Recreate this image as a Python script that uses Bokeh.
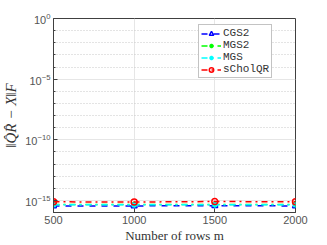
from bokeh.plotting import figure
from bokeh.models import Range1d, FixedTicker, Legend, LegendItem
from bokeh.embed import file_html
from bokeh.resources import INLINE

rows_m = [500, 1000, 1500, 2000]
cgs2 = [3.5e-16, 3.5e-16, 3.6e-16, 3.5e-16]
mgs2 = [4.5e-16, 4.5e-16, 4.6e-16, 4.5e-16]
mgs = [4.3e-16, 4.3e-16, 4.4e-16, 4.3e-16]
scholqr = [7.6e-16, 7.3e-16, 8.0e-16, 7.7e-16]
x_ticks = [500, 1000, 1500, 2000]
y_major = [1e-15, 1e-10, 1e-5, 1e0]
y_minor = [10.0 ** k for k in range(-16, 1) if k % 5 != 0]

AX = "#404040"
p = figure(width=327, height=245, y_axis_type="log",
           x_range=Range1d(500, 2000), y_range=Range1d(1e-16, 1),
           output_backend="svg", toolbar_location=None,
           min_border_left=53, min_border_right=32, min_border_top=18, min_border_bottom=32)
p.outline_line_color = AX
p.outline_line_width = 1

p.xaxis.ticker = FixedTicker(ticks=x_ticks)
p.yaxis.ticker = FixedTicker(ticks=y_major, minor_ticks=y_minor)
for ax in (p.xaxis[0], p.yaxis[0]):
    ax.axis_line_color = AX
    ax.major_tick_line_color = AX
    ax.minor_tick_line_color = AX
    ax.major_tick_in = 4
    ax.major_tick_out = 0
    ax.minor_tick_in = 2
    ax.minor_tick_out = 0
    ax.major_label_text_font = "Liberation Sans"
    ax.major_label_text_font_size = "11px"
    ax.major_label_text_color = "#555555"
    ax.axis_label_text_font = "Liberation Serif"
    ax.axis_label_text_font_style = "normal"
    ax.axis_label_text_font_size = "13px"
    ax.axis_label_text_color = "#333333"
p.xaxis.major_label_standoff = 3
p.xaxis.axis_label_standoff = 1
p.yaxis.major_label_standoff = 3
p.yaxis.axis_label_standoff = 3
p.xaxis.axis_label = "Number of rows m"
p.yaxis.axis_label = "‖Q̂R̂ − X‖F"
p.yaxis.axis_label_text_font_style = "italic"
p.yaxis.axis_label_text_font_size = "15px"

p.xgrid.grid_line_color = "#e6e6e6"
p.ygrid.grid_line_color = "#e6e6e6"
p.ygrid.minor_grid_line_color = "#c8c8c8"
p.ygrid.minor_grid_line_dash = "1 2"

series = [
    ("CGS2", cgs2, "#0000ff", "dashed", "triangle"),
    ("MGS2", mgs2, "#00ff00", "dashdot", "asterisk"),
    ("MGS", mgs, "#00ffff", "dashdot", "asterisk"),
    ("sCholQR", scholqr, "#ff0000", "dashdot", "circle"),
]
items = []
for name, vals, col, dash, mk in series:
    r1 = p.line(rows_m, vals, line_color=col, line_width=1.5, line_dash=dash)
    r2 = p.scatter(rows_m, vals, marker=mk, size=6, line_color=col, fill_color=None,
                   line_width=1.5)
    items.append(LegendItem(label=name, renderers=[r1, r2]))

leg = Legend(items=items, location=(145, 134))
leg.label_text_font = "Liberation Mono"
leg.label_text_font_size = "11px"
leg.label_text_color = "#333333"
leg.label_text_line_height = 1.0
leg.label_height = 11
leg.glyph_height = 11
leg.glyph_width = 20
leg.spacing = 0
leg.padding = 2
leg.margin = 0
leg.label_standoff = 2
leg.border_line_color = "#888888"
leg.background_fill_alpha = 1
p.add_layout(leg)

open("out.html", "w").write(file_html(p, INLINE))
